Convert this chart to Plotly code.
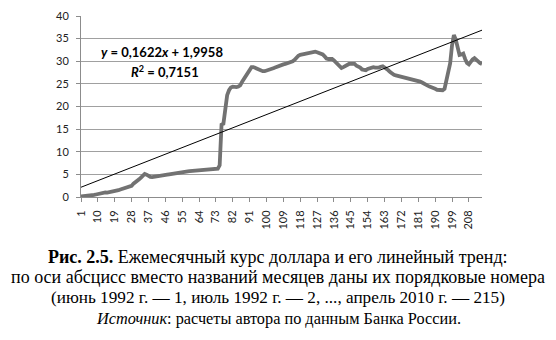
import plotly.graph_objects as go

# Monthly USD/RUB rate, June 1992 (1) ... April 2010 (215); pre-1998 values in new rubles
rate_1992 = [0.12, 0.14, 0.17, 0.21, 0.30, 0.40, 0.42]
rate_1993 = [0.45, 0.55, 0.65, 0.78, 0.93, 1.03, 1.02, 0.99, 1.05, 1.15, 1.18, 1.22]
rate_1994 = [1.35, 1.50, 1.65, 1.75, 1.85, 1.95, 2.05, 2.15, 2.45, 2.95, 3.20, 3.50]
rate_1995 = [3.90, 4.30, 4.70, 5.10, 4.95, 4.60, 4.45, 4.40, 4.45, 4.48, 4.50, 4.56]
rate_1996 = [4.65, 4.75, 4.85, 4.95, 5.02, 5.10, 5.20, 5.30, 5.40, 5.47, 5.52, 5.55]
rate_1997 = [5.60, 5.65, 5.68, 5.72, 5.76, 5.78, 5.80, 5.82, 5.85, 5.88, 5.92, 5.96]
rate_1998 = [6.00, 6.05, 6.09, 6.12, 6.16, 6.20, 6.25, 7.00, 16.0, 16.2, 19.5, 22.5]
rate_1999 = [23.6, 24.2, 24.4, 24.3, 24.3, 24.4, 24.7, 25.5, 26.2, 26.9, 27.4, 28.0]
rate_2000 = [28.7, 28.7, 28.5, 28.4, 28.2, 28.0, 27.8, 27.8, 27.9, 28.0, 28.1, 28.2]
rate_2001 = [28.5, 28.7, 28.9, 29.0, 29.2, 29.3, 29.4, 29.5, 29.6, 29.8, 30.0, 30.3]
rate_2002 = [30.8, 31.2, 31.4, 31.5, 31.6, 31.7, 31.8, 31.9, 32.0, 32.1, 32.1, 32.0]
rate_2003 = [31.9, 31.7, 31.5, 31.1, 30.6, 30.5, 30.6, 30.5, 30.2, 29.7, 29.3, 28.9]
rate_2004 = [28.5, 28.7, 29.0, 29.2, 29.4, 29.4, 29.5, 29.4, 29.0, 28.9, 28.6, 28.2]
rate_2005 = [28.0, 28.0, 28.3, 28.5, 28.7, 28.7, 28.6, 28.5, 28.6, 28.8, 28.9, 28.6]
rate_2006 = [28.4, 28.0, 27.6, 27.2, 27.0, 26.9, 26.8, 26.7, 26.6, 26.5, 26.5, 26.4]
rate_2007 = [26.3, 26.2, 26.1, 26.0, 25.9, 25.7, 25.5, 25.3, 25.0, 24.8, 24.6, 24.4]
rate_2008 = [24.3, 24.1, 23.9, 23.7, 23.6, 23.5, 23.6, 23.9, 26.0, 27.1, 29.5, 33.5]
rate_2009 = [35.8, 34.8, 32.6, 31.4, 31.5, 31.7, 30.5, 29.6, 29.3, 29.9, 30.4, 30.7]
rate_2010 = [30.3, 29.9, 29.6, 29.4]

rates = (rate_1992 + rate_1993 + rate_1994 + rate_1995 + rate_1996 + rate_1997
         + rate_1998 + rate_1999 + rate_2000 + rate_2001 + rate_2002 + rate_2003
         + rate_2004 + rate_2005 + rate_2006 + rate_2007 + rate_2008 + rate_2009
         + rate_2010)
months = list(range(1, len(rates) + 1))

# Linear trend coefficients
trend_slope = 0.1622
trend_intercept = 1.9958
trend_r2 = 0.7151
trend_x = [months[0], months[-1]]
trend_y = [trend_slope * x + trend_intercept for x in trend_x]

x_tick_vals = list(range(1, 216, 9))
x_tick_text = [str(v) for v in x_tick_vals]
y_tick_vals = [0, 5, 10, 15, 20, 25, 30, 35, 40]

W, H = 556, 340
M_L, M_R, M_T, M_B = 81, 74, 9, 143
plot_w = W - M_L - M_R
plot_h = H - M_T - M_B


def py(pixel_y):
    """Convert a page pixel row into paper y."""
    return (H - M_B - pixel_y) / plot_h


fig = go.Figure()
fig.add_trace(go.Scatter(
    x=months, y=rates, mode="lines",
    line=dict(color="#727272", width=3.8),
    hoverinfo="skip", showlegend=False,
))
fig.add_trace(go.Scatter(
    x=trend_x, y=trend_y, mode="lines",
    line=dict(color="#000000", width=1),
    hoverinfo="skip", showlegend=False,
))

fmt = lambda v: f"{v:.4f}".replace(".", ",")
annotations = [
    dict(x=44.2, y=32.0, xref="x", yref="y",
         text=f"<b><i>y</i> = {fmt(trend_slope)}<i>x</i> + {fmt(trend_intercept)}</b>",
         showarrow=False, font=dict(family="Lato", size=13, color="#000")),
    dict(x=45.6, y=27.7, xref="x", yref="y",
         text=f"<b><i>R</i><sup>2</sup> = {fmt(trend_r2)}</b>",
         showarrow=False, font=dict(family="Lato", size=13, color="#000")),
]

serif = "Liberation Serif"
captions = [
    ("<b>Рис. 2.5.</b> Ежемесячный курс доллара и его линейный тренд:", 259.5, 18),
    ("по оси абсцисс вместо названий месяцев даны их порядковые номера", 280, 18),
    ("(июнь 1992 г. — 1, июль 1992 г. — 2, ..., апрель 2010 г. — 215)", 301, 17.2),
    ("<i>Источник</i>: расчеты автора по данным Банка России.", 323, 16.3),
]
for text, row, size in captions:
    annotations.append(dict(
        x=(W / 2 - M_L) / plot_w, y=py(row), xref="paper", yref="paper",
        text=text, showarrow=False, xanchor="center", yanchor="middle",
        font=dict(family=serif, size=size, color="#000"),
    ))

fig.update_layout(
    width=W, height=H,
    margin=dict(l=M_L, r=M_R, t=M_T, b=M_B, pad=0),
    paper_bgcolor="white", plot_bgcolor="white",
    annotations=annotations,
    xaxis=dict(
        range=[1, 215], tickmode="array", tickvals=x_tick_vals, ticktext=x_tick_text,
        tickangle=-90, ticks="outside", ticklen=4, tickcolor="#8c8c8c",
        ticklabelstandoff=4,
        showline=True, linecolor="#8c8c8c", linewidth=1, showgrid=False, zeroline=False,
        tickfont=dict(family="Lato", size=11, color="#222"),
    ),
    yaxis=dict(
        range=[0, 40], tickmode="array", tickvals=y_tick_vals,
        ticks="outside", ticklen=4, tickcolor="#8c8c8c",
        ticklabelstandoff=5,
        showline=True, linecolor="#8c8c8c", linewidth=1,
        showgrid=True, gridcolor="#a0a0a0", gridwidth=1, zeroline=False,
        tickfont=dict(family="Lato", size=11, color="#222"),
    ),
)

fig.write_html("out.html")
